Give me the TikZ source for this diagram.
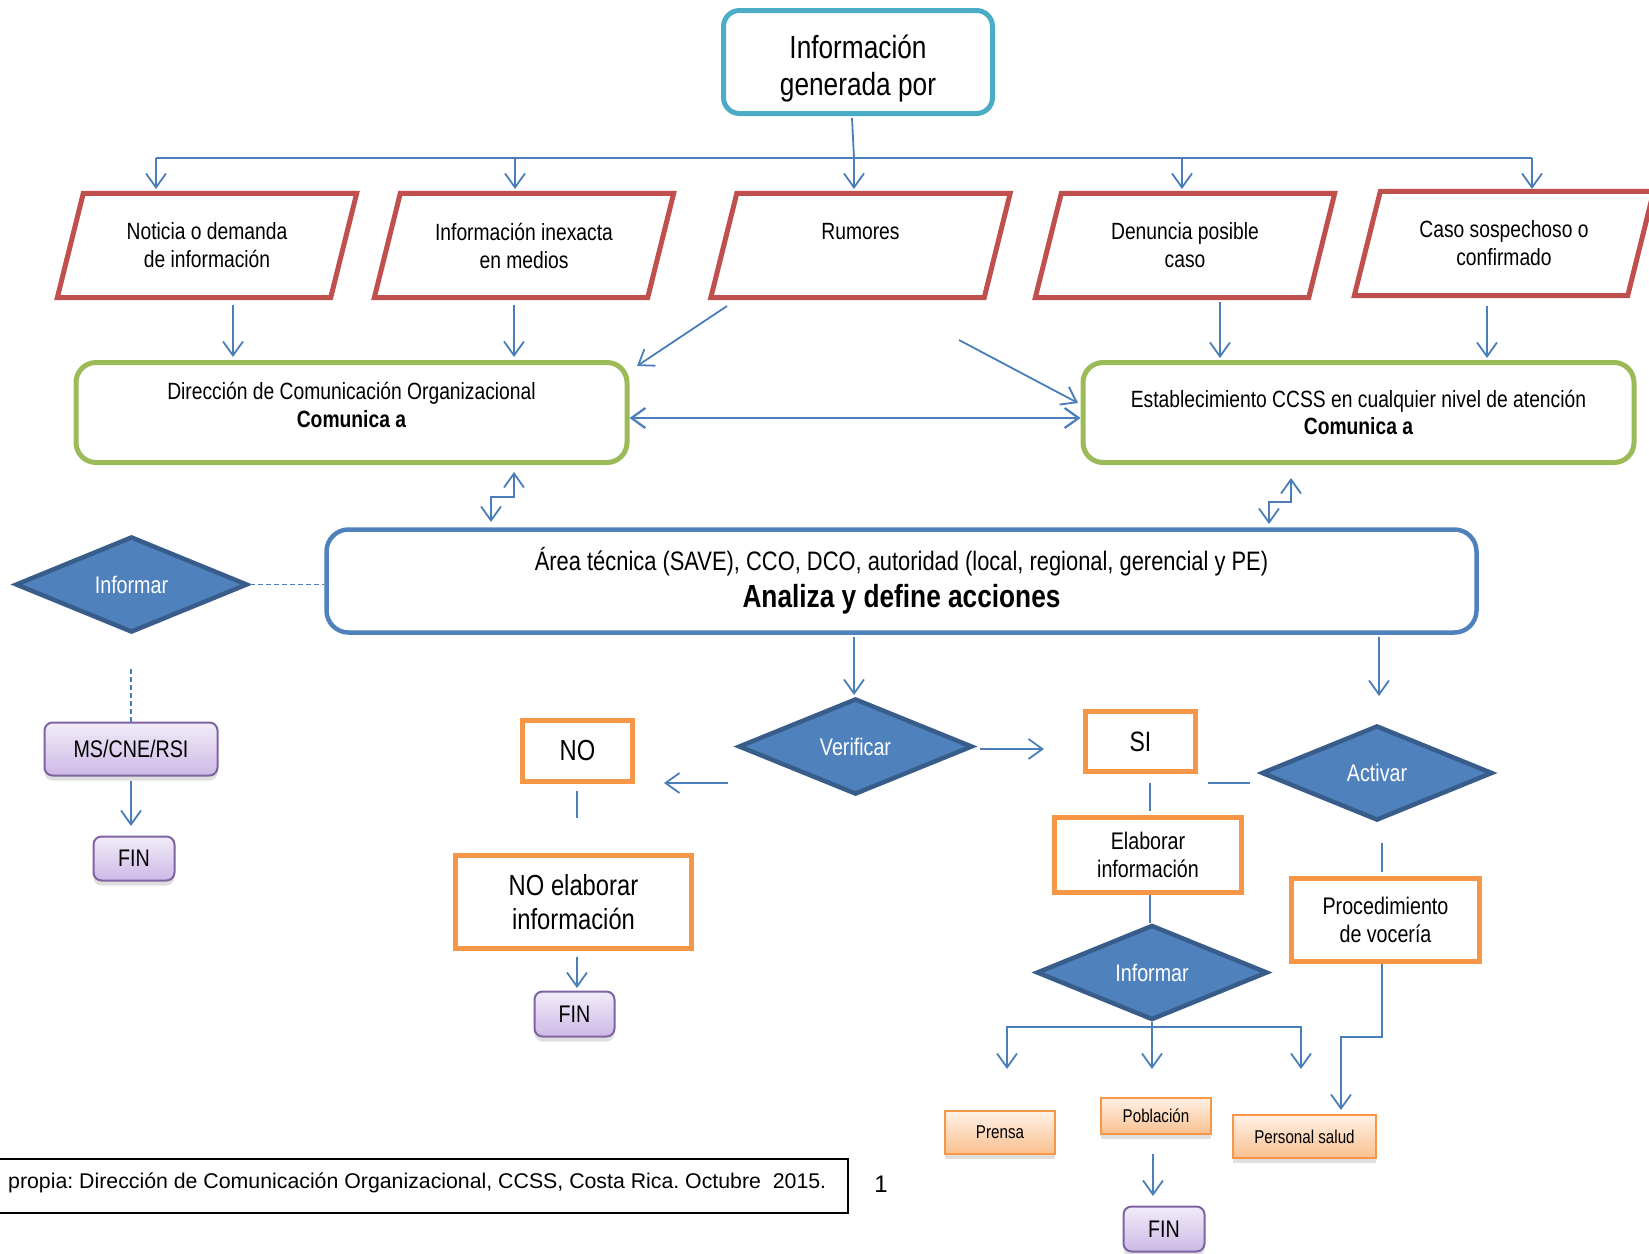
\documentclass[tikz,border=0pt]{standalone}
\usepackage{fontspec}
\setmainfont{Liberation Sans}
\newfontfamily\nf{Liberation Sans}[FakeStretch=0.82]
\usetikzlibrary{arrows.meta,shapes.geometric,calc,shadows}
\definecolor{cyanc}{HTML}{4BACC6}
\definecolor{redc}{HTML}{C0504D}
\definecolor{greenc}{HTML}{9BBB59}
\definecolor{bluec}{HTML}{4F81BD}
\definecolor{dbluec}{HTML}{385D8A}
\definecolor{orangec}{HTML}{F79646}
\definecolor{purpc}{HTML}{8064A2}
\definecolor{linec}{HTML}{4A7EBB}
\definecolor{purtop}{HTML}{F1ECF9}
\definecolor{purbot}{HTML}{CDB9E6}
\definecolor{ortop}{HTML}{FEF1E6}
\definecolor{orbot}{HTML}{FAC08F}
\frenchspacing
\begin{document}
\begin{tikzpicture}[x=1pt,y=-1pt,
  ln/.style={draw=linec, line width=1.8pt},
  arr/.style={ln, -{Straight Barb[length=14pt,width=20pt]}},
  darr/.style={ln, {Straight Barb[length=14pt,width=20pt]}-{Straight Barb[length=14pt,width=20pt]}},
  dsh/.style={ln, dash pattern=on 5pt off 3pt},
  topbox/.style={draw=cyanc, line width=5pt, rounded corners=16pt, fill=white, align=center,
    font=\nf\fontsize{32}{37}\selectfont, minimum width=269pt, minimum height=103pt},
  partext/.style={inner sep=0pt, minimum width=299pt, minimum height=104pt, align=center,
    font=\nf\fontsize{23.5}{28}\selectfont},
  parline/.style={draw=redc, line width=5pt, line join=miter},
  greenbox/.style={draw=greenc, line width=5pt, rounded corners=20pt, align=center,
    font=\nf\fontsize{23.5}{27.5}\selectfont, minimum width=551pt, minimum height=100pt},
  bigbox/.style={draw=bluec, line width=4.5pt, rounded corners=22pt, align=center,
    minimum width=1150pt, minimum height=103pt},
  dia/.style={diamond, fill=bluec, draw=dbluec, line width=4.5pt, text=white, inner sep=0pt,
    font=\nf\fontsize{24}{28}\selectfont},
  obox/.style={draw=orangec, line width=5pt, fill=white, align=center, inner sep=0pt},
  purp/.style={draw=purpc, line width=2pt, rounded corners=8pt, top color=purtop, bottom color=purbot,
    drop shadow={shadow xshift=0pt, shadow yshift=-5pt, opacity=0.25},
    font=\nf\fontsize{24}{28}\selectfont, inner sep=0pt},
  sob/.style={draw=orangec, line width=2.5pt, top color=ortop, bottom color=orbot,
    drop shadow={shadow xshift=0pt, shadow yshift=-5pt, opacity=0.25},
    font=\nf\fontsize{18.5}{22}\selectfont, inner sep=0pt}
]
\useasboundingbox (0,0) rectangle (1649,1253);

% top box
\node[topbox] (top) at (858,62) {\rule{0pt}{36pt}Información\\generada por};

% parallelograms
\node[partext] (p1) at (207,245.5) {Noticia o demanda\\de información};
\node[partext] (p2) at (524,245.5) {Información inexacta\\en medios};
\node[partext] (p3) at (860.5,245.5) {Rumores\\\mbox{}};
\node[partext] (p4) at (1185,245.5) {Denuncia posible\\caso};
\node[partext] (p5) at (1504,243.5) {Caso sospechoso o\\confirmado};
\foreach \n in {p1,p2,p3,p4,p5}
  \draw[parline] ($(\n.north west)+(26,0)$) -- (\n.north east) -- ($(\n.south east)+(-26,0)$) -- (\n.south west) -- cycle;

% green boxes
\node[greenbox] (dco) at (351.5,412.5) {Dirección de Comunicación Organizacional\\\textbf{Comunica a}\rule[-15pt]{0pt}{0pt}};
\node[greenbox] (est) at (1358.5,412.5) {Establecimiento CCSS en cualquier nivel de atención\\\textbf{Comunica a}};

% big box
\node[bigbox] (area) at (901.5,581) {{\nf\fontsize{26.7}{34}\selectfont Área técnica (SAVE), CCO, DCO, autoridad (local, regional, gerencial y PE)}\\[7pt]{\nf\fontsize{32}{34}\selectfont\bfseries Analiza y define acciones}};

% diamonds
\node[dia, minimum width=232pt, minimum height=96pt] (inf1) at (131.5,584.5) {Informar};
\node[dia, minimum width=234pt, minimum height=96pt] (ver) at (855.5,746.5) {Verificar};
\node[dia, minimum width=231pt, minimum height=95pt] (inf2) at (1152,972.5) {Informar};
\node[dia, minimum width=231pt, minimum height=95pt] (act) at (1377,773) {Activar};

% purple boxes
\node[purp, minimum width=173pt, minimum height=53pt] (ms) at (131,749) {MS/CNE/RSI};
\node[purp, minimum width=81pt, minimum height=44pt] (fin1) at (134,858.5) {FIN};
\node[purp, minimum width=80pt, minimum height=45pt] (fin2) at (574.5,1014) {FIN};
\node[purp, minimum width=81pt, minimum height=45pt] (fin3) at (1164,1229) {FIN};

% orange boxes
\node[obox, font=\nf\fontsize{29}{34}\selectfont, minimum width=110pt, minimum height=61pt] (no) at (577.5,751) {NO};
\node[obox, font=\nf\fontsize{29}{34}\selectfont, minimum width=236pt, minimum height=93pt] (noel) at (573.5,902) {NO elaborar\\información};
\node[obox, font=\nf\fontsize{28}{34}\selectfont, minimum width=110pt, minimum height=60pt] (si) at (1140.5,741.5) {SI};
\node[obox, font=\nf\fontsize{24}{28}\selectfont, minimum width=187pt, minimum height=75pt] (elab) at (1148,855) {Elaborar\\información};
\node[obox, font=\nf\fontsize{24}{28}\selectfont, minimum width=188pt, minimum height=83pt] (proc) at (1385.5,920) {Procedimiento\\de vocería};

% small orange boxes
\node[sob, minimum width=110pt, minimum height=43pt] (prensa) at (1000,1132.5) {Prensa};
\node[sob, minimum width=110pt, minimum height=36pt] (pob) at (1156,1116) {Población};
\node[sob, minimum width=143pt, minimum height=43pt] (pers) at (1304.5,1136.5) {Personal salud};

% footer
\node[draw=black, line width=1.3pt, minimum width=868pt, minimum height=54pt, inner sep=0pt] (footbox) at (414,1186) {};
\node[anchor=west, inner sep=0pt, font=\fontsize{21.3}{25}\selectfont] (foottext) at (8,1183) {propia: Dirección de Comunicación Organizacional, CCSS, Costa Rica. Octubre\ \ 2015.};
\node[inner sep=0pt, font=\fontsize{24}{28}\selectfont] (pagenum) at (881,1184) {1};

% ---- connectors ----
\coordinate (t0) at (852,118);
\coordinate (t1) at (854,158);
\draw[ln] (t0) -- (t1);
\draw[ln] (156,158) -- (1532,158);
\foreach \x in {156,515,854,1182,1532}
  \draw[arr] (\x,158) -- (\x,189);

\draw[arr] (233,305) -- (233,357);
\draw[arr] (514,305) -- (514,357);
\draw[arr] (1220,302) -- (1220,358);
\draw[arr] (1487,306) -- (1487,358);
\draw[arr] (727,306) -- (637,366);
\draw[arr] (959,340) -- (1078,403);
\draw[darr, line width=2.2pt] (dco.east |- 0,418) -- (est.west |- 0,418);

\draw[darr] (491,522) -- (491,497) -- (514,497) -- (514,472);
\draw[darr] (1269,524) -- (1269,502) -- (1291,502) -- (1291,478);

\draw[dsh] (inf1.east) -- (area.west |- inf1.east);
\draw[dsh] (131,669) -- (ms.north);
\draw[arr] (ms.south) ++(0,4) -- (131,826);

\draw[arr] (854,637) -- (854,695);
\draw[arr] (1379,637) -- (1379,696);

\draw[arr] (728,783) -- (664,783);
\draw[ln] (577,791) -- (577,818);
\draw[arr] (577,957) -- (577,988);

\draw[arr] (980,749) -- (1044,749);
\draw[ln] (1150,783) -- (1150,811);
\draw[ln] (1208,783) -- (1250,783);
\draw[ln] (elab.south -| 1150,0) -- (inf2.north -| 1150,0);

\draw[darr] (1007,1069) -- (1007,1027) -- (1301,1027) -- (1301,1069);
\draw[arr] (inf2.south) -- (1152,1069);
\draw[arr] (1153,1154) -- (1153,1196);

\draw[ln] (1382,843) -- (1382,872);
\draw[arr] (proc.south -| 1382,0) -- (1382,1037) -- (1341,1037) -- (1341,1110);
\end{tikzpicture}
\end{document}
